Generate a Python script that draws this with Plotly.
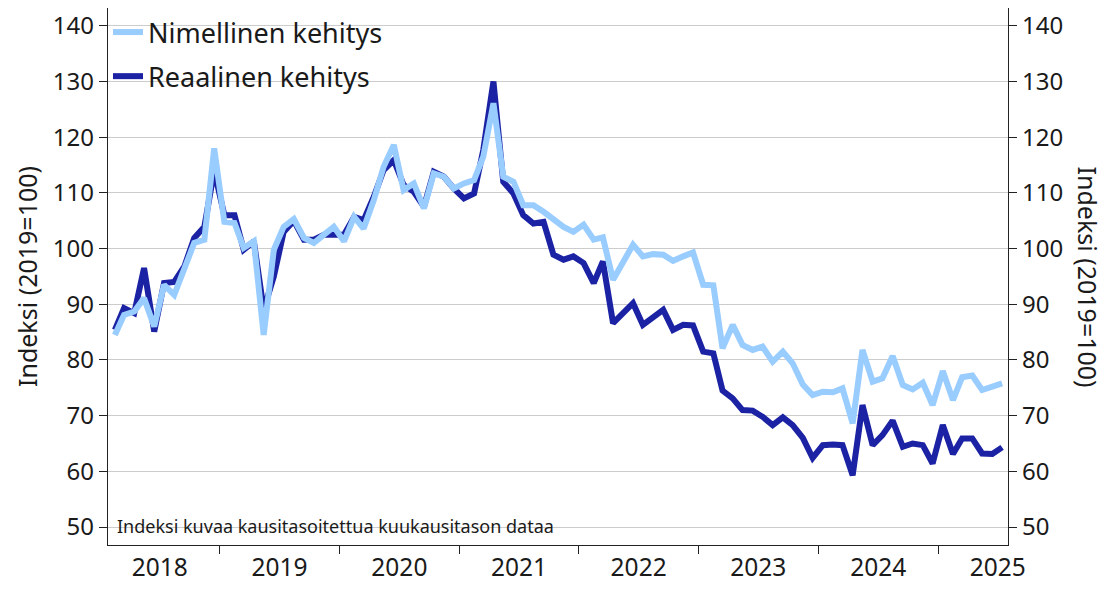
import pandas as pd
import plotly.graph_objects as go

# Monthly index values (2019=100), seasonally adjusted
nimellinen = [84.5, 88.1, 88.7, 91.1, 86.0, 93.5, 91.7, 96.5, 101.0, 101.6,
              118.0, 104.8, 104.6, 100.1, 101.3, 84.5, 99.8, 103.9, 105.3, 101.9,
              101.0, 102.5, 103.9, 101.3, 105.7, 103.6, 108.7, 114.7, 118.6, 110.5,
              111.7, 107.2, 113.5, 112.9, 110.8, 111.7, 112.3, 116.5, 126.1, 112.9,
              112.0, 107.8, 107.8, 106.6, 105.1, 103.9, 103.0, 104.3, 101.6, 102.0,
              94.4, 97.7, 100.7, 98.6, 99.0, 98.9, 97.8, 98.6, 99.3, 93.5,
              93.4, 82.1, 86.3, 82.7, 81.8, 82.4, 79.7, 81.5, 79.4, 75.6,
              73.7, 74.3, 74.2, 74.9, 68.6, 81.8, 76.1, 76.7, 80.7, 75.5,
              74.7, 75.9, 71.9, 78.0, 72.8, 76.9, 77.2, 74.6, 75.1, 75.8]
reaalinen = [85.4, 89.3, 88.4, 96.5, 85.1, 93.8, 94.0, 96.8, 101.9, 103.9,
             114.0, 106.0, 106.0, 99.8, 101.3, 89.0, 95.0, 103.0, 105.0, 101.6,
             101.6, 102.5, 102.5, 102.5, 105.7, 105.1, 109.3, 114.1, 115.9, 111.4,
             110.2, 107.5, 113.8, 112.9, 110.8, 109.0, 109.9, 117.7, 130.0, 112.0,
             109.9, 106.0, 104.5, 104.8, 98.9, 98.0, 98.6, 97.4, 93.8, 97.7,
             86.6, 88.4, 90.2, 86.3, 87.8, 89.0, 85.4, 86.3, 86.2, 81.5,
             81.2, 74.5, 73.1, 71.0, 70.9, 69.8, 68.3, 69.7, 68.3, 66.0,
             62.4, 64.7, 64.8, 64.7, 59.3, 71.9, 64.7, 66.5, 69.1, 64.4,
             65.0, 64.7, 61.4, 68.3, 63.1, 65.9, 65.9, 63.2, 63.1, 64.3]
months = pd.date_range("2018-02-01", periods=len(nimellinen), freq="MS") + pd.Timedelta(days=14)
years = list(range(2018, 2026))
year_starts = [f"{y}-01-01" for y in years[1:]]
year_mids = [f"{y}-07-02" for y in years]
year_labels = [str(y) for y in years]
y_ticks = list(range(50, 141, 10))

FONT = "Noto Sans"
LIGHT = "#99ccff"
DARK = "#1b22a3"
TXT = "#1a1a1a"
AX = "#222222"

fig = go.Figure()
fig.add_trace(go.Scatter(x=months, y=reaalinen, mode="lines", name="Reaalinen kehitys",
                         line=dict(color=DARK, width=6), legendrank=2, legendgroup="r"))
fig.add_trace(go.Scatter(x=months, y=nimellinen, mode="lines", name="Nimellinen kehitys",
                         line=dict(color=LIGHT, width=6), legendrank=1, legendgroup="n"))
fig.add_trace(go.Scatter(x=months, y=nimellinen, yaxis="y2", mode="lines",
                         line=dict(width=0, color="rgba(0,0,0,0)"), showlegend=False,
                         hoverinfo="skip"))

yrange = [46.77, 143.2]
fig.update_layout(
    width=1099, height=581,
    margin=dict(l=100, r=99, t=0, b=44),
    paper_bgcolor="white", plot_bgcolor="white",
    font=dict(family=FONT, size=24, color=TXT),
    showlegend=True,
    legend=dict(x=0.0, y=1.0, xanchor="left", yanchor="top", bgcolor="rgba(0,0,0,0)",
                font=dict(size=27, family=FONT, color=TXT), traceorder="grouped",
                tracegroupgap=6, itemwidth=30),
    xaxis=dict(type="date", range=["2018-01-25", "2025-08-02"], automargin=False,
               tickvals=year_mids, ticktext=year_labels, ticks="",
               minor=dict(tickvals=year_starts, ticks="outside", ticklen=8, tickwidth=1.3,
                          tickcolor=AX, showgrid=False),
               showline=True, linecolor=AX, linewidth=1.3,
               showgrid=False, zeroline=False,
               tickfont=dict(size=24.5, family=FONT, color=TXT)),
    yaxis=dict(range=yrange, tickvals=y_ticks, automargin=False,
               ticks="outside", ticklen=8, tickwidth=1.3, tickcolor=AX,
               showline=True, linecolor=AX, linewidth=1.3,
               showgrid=True, gridcolor="#cccccc", gridwidth=1, zeroline=False,
               tickfont=dict(size=24, family=FONT, color=TXT),
               title=dict(text="Indeksi (2019=100)", font=dict(size=25, family=FONT, color=TXT),
                          standoff=8)),
    yaxis2=dict(range=yrange, overlaying="y", side="right", anchor="x", automargin=False,
                tickvals=y_ticks,
                ticks="outside", ticklen=8, tickwidth=1.3, tickcolor=AX,
                showline=True, linecolor=AX, linewidth=1.3,
                showgrid=False, zeroline=False,
                tickfont=dict(size=24, family=FONT, color=TXT)),
)

fig.add_annotation(text="Indeksi (2019=100)", textangle=90, xref="paper", yref="paper",
                   x=1.0, xanchor="center", xshift=80, y=0.5, showarrow=False,
                   font=dict(size=25, family=FONT, color=TXT))
fig.add_annotation(text="Indeksi kuvaa kausitasoitettua kuukausitason dataa",
                   xref="paper", yref="paper", x=0.0, xshift=7, y=0.0, yshift=5,
                   xanchor="left", yanchor="bottom", showarrow=False,
                   font=dict(size=18, family=FONT, color=TXT))

fig.write_html("out.html")
